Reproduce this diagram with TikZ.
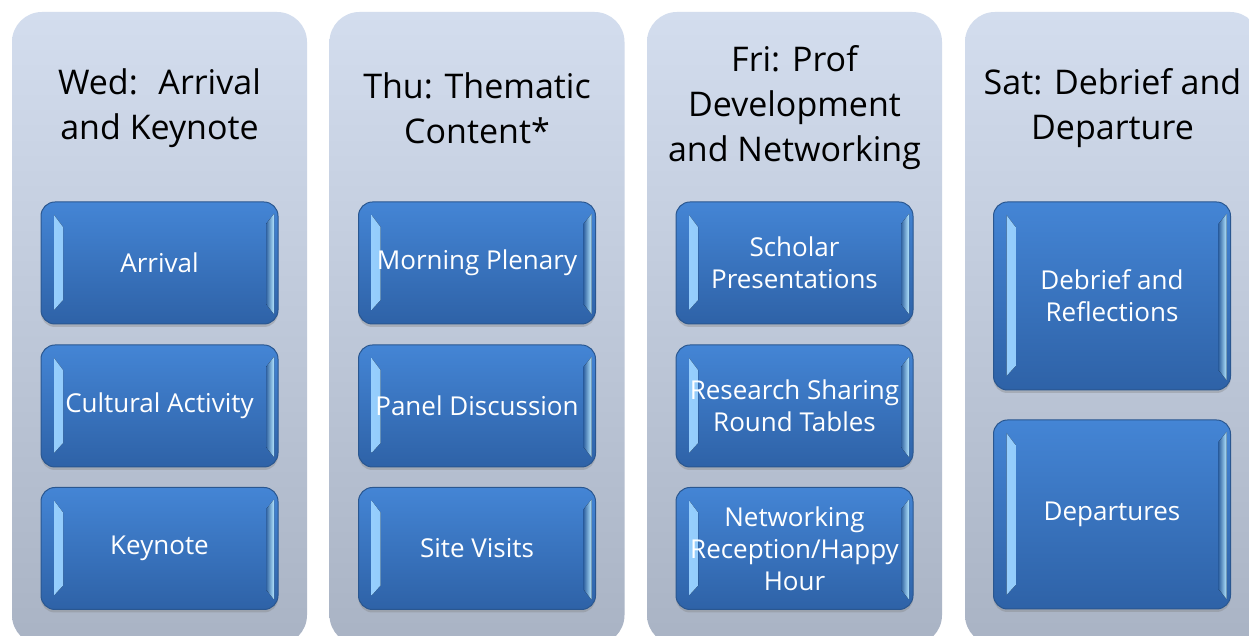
\documentclass[tikz,border=0pt]{standalone}
\usepackage{fontspec}
\setmainfont{Open Sans}
\usetikzlibrary{shadows,calc}
\definecolor{colTop}{HTML}{D3DDEE}
\definecolor{colBot}{HTML}{A9B3C4}
\definecolor{boxTop}{HTML}{4485D5}
\definecolor{boxBot}{HTML}{2E62A7}
\definecolor{boxEdge}{HTML}{2A5790}
\definecolor{bevL}{HTML}{9AD2FF}
\definecolor{bevR}{HTML}{B4E6FF}
\definecolor{boxMid}{HTML}{3C7BC9}
\tikzset{
  daycol/.style={rounded corners=30pt, top color=colTop, bottom color=colBot, draw=none,
    minimum width=295pt, minimum height=633pt, inner sep=0pt},
  daytitle/.style={font=\fontsize{34}{45}\selectfont, align=center, text=black, inner sep=0pt},
  item/.style={rounded corners=14pt, top color=boxTop, bottom color=boxBot, draw=boxEdge,
    line width=1pt, minimum width=237pt, text=white, align=center,
    font=\fontsize{26}{32}\selectfont, inner sep=0pt,
    drop shadow={shadow xshift=0pt, shadow yshift=-3pt, opacity=0.35},
    path picture={
      \fill[sharp corners, left color=bevL, right color=boxMid!75!bevL]
        ([shift={(13pt,-13pt)}]path picture bounding box.north west) --
        ([shift={(22pt,-25pt)}]path picture bounding box.north west) --
        ([shift={(22pt,24pt)}]path picture bounding box.south west) --
        ([shift={(13pt,14pt)}]path picture bounding box.south west) -- cycle;
      \fill[sharp corners, left color=boxMid!80!black, right color=bevR]
        ([shift={(-4pt,-12pt)}]path picture bounding box.north east) --
        ([shift={(-12pt,-22pt)}]path picture bounding box.north east) --
        ([shift={(-12pt,20pt)}]path picture bounding box.south east) --
        ([shift={(-4pt,10pt)}]path picture bounding box.south east) -- cycle;
    }},
}
\begin{document}
\begin{tikzpicture}[x=1pt,y=1pt]
\useasboundingbox (0,0) rectangle (1249,636);
\fill[white] (0,0) rectangle (1249,636);
% columns
\node[daycol] (c1) at (159.5,307.5) {};
\node[daycol] (c2) at (477,307.5) {};
\node[daycol] (c3) at (794.5,307.5) {};
\node[daycol] (c4) at (1112.5,307.5) {};
% titles
\node[daytitle] (t1) at (159.5,528) {Wed:~ Arrival\\and Keynote};
\node[daytitle] (t2) at (477,528) {Thu: Thematic\\Content*};
\node[daytitle] (t3) at (794.5,528) {Fri: Prof\\Development\\and Networking};
\node[daytitle] (t4) at (1112.5,528) {Sat: Debrief and\\Departure};
% column 1
\node[item, minimum height=122pt] (a1) at (159.5,373) {Arrival};
\node[item, minimum height=122pt] (a2) at (159.5,230) {Cultural Activity};
\node[item, minimum height=122pt] (a3) at (159.5,87.5) {Keynote};
% column 2
\node[item, minimum height=122pt] (b1) at (477,373) {Morning Plenary};
\node[item, minimum height=122pt] (b2) at (477,230) {Panel Discussion};
\node[item, minimum height=122pt] (b3) at (477,87.5) {Site Visits};
% column 3
\node[item, minimum height=122pt] (d1) at (794.5,373) {Scholar\\Presentations};
\node[item, minimum height=122pt] (d2) at (794.5,230) {Research Sharing\\Round Tables};
\node[item, minimum height=122pt] (d3) at (794.5,87.5) {Networking\\Reception/Happy\\Hour};
% column 4
\node[item, minimum height=188pt] (e1) at (1112,340) {Debrief and\\Reflections};
\node[item, minimum height=189pt] (e2) at (1112,121.5) {Departures};
\end{tikzpicture}
\end{document}
